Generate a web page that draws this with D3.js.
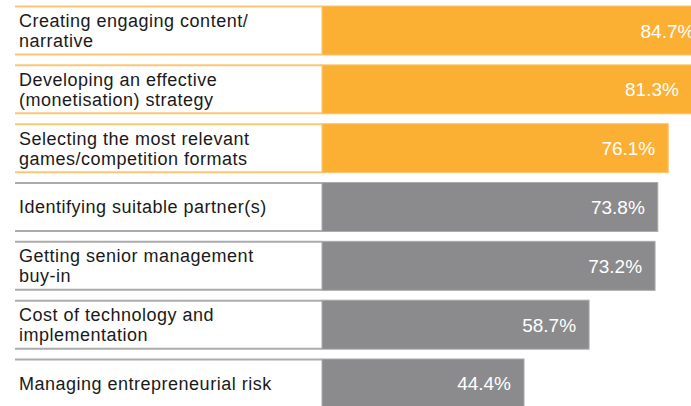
<!DOCTYPE html>
<html>
<head>
<meta charset="utf-8">
<script src="https://cdn.jsdelivr.net/npm/d3@7"></script>
<style>
  body { margin: 0; background: #fff; }
  svg { display: block; font-family: "Liberation Sans", Arial, sans-serif; }
</style>
</head>
<body>
<svg id="chart" width="691" height="406"></svg>
<script>
// data
const categories = [
  ['Creating engaging content/', 'narrative'],
  ['Developing an effective', '(monetisation) strategy'],
  ['Selecting the most relevant', 'games/competition formats'],
  ['Identifying suitable partner(s)'],
  ['Getting senior management', 'buy-in'],
  ['Cost of technology and', 'implementation'],
  ['Managing entrepreneurial risk']
]
const values = [84.7, 81.3, 76.1, 73.8, 73.2, 58.7, 44.4]
const highlight = [true, true, true, false, false, false, false]

const svg = d3.select('#chart')
const idx = d3.range(values.length)

const x = d3.scaleLinear().domain([0, 100]).range([322, 777])
const y = d3.scaleBand().domain(idx).range([6, 408]).paddingInner(0.167).paddingOuter(0)

const fill = i => highlight[i] ? '#fbb034' : '#8b8b8d'
const line = i => highlight[i] ? '#fcc673' : '#ababab'

const row = svg.selectAll('g.row')
  .data(idx)
  .join('g')
  .attr('class', 'row')
  .attr('transform', i => `translate(0,${y(i)})`)

const h = y.bandwidth()

// label box top / bottom rules
row.append('line')
  .attr('x1', 15).attr('x2', x(0))
  .attr('y1', 0.5).attr('y2', 0.5)
  .attr('stroke', line).attr('stroke-width', 2)
row.append('line')
  .attr('x1', 15).attr('x2', x(0))
  .attr('y1', h - 0.5).attr('y2', h - 0.5)
  .attr('stroke', line).attr('stroke-width', 2)

// bars
row.append('rect')
  .attr('x', x(0))
  .attr('y', 0)
  .attr('width', i => x(values[i]) - x(0))
  .attr('height', h)
  .attr('fill', fill)
  .attr('stroke', line)
  .attr('stroke-width', 1)

// labels
row.append('text')
  .attr('font-size', 18)
  .attr('letter-spacing', 0.5)
  .attr('fill', '#1a1a1a')
  .each(function (i) {
    const lines = categories[i]
    const top = lines.length === 1 ? 31 : 21
    d3.select(this).selectAll('tspan')
      .data(lines)
      .join('tspan')
      .attr('x', 19)
      .attr('y', (d, k) => top + k * 20)
      .text(d => d)
  })

// values
row.append('text')
  .attr('x', i => x(values[i]) - 13)
  .attr('y', h / 2 + 7)
  .attr('text-anchor', 'end')
  .attr('font-size', 19)
  .attr('fill', '#fff')
  .text(i => values[i].toFixed(1) + '%')
</script>
</body>
</html>
